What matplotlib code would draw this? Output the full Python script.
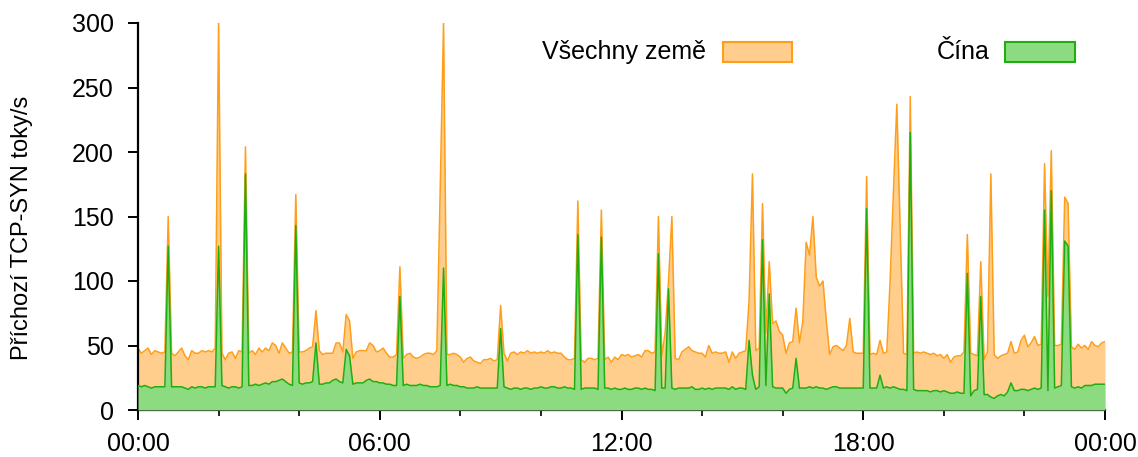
import matplotlib
matplotlib.use("Agg")
import matplotlib.pyplot as plt
from matplotlib.patches import Rectangle
import numpy as np

# 5-minute samples, 00:00 .. 24:00 (one row per hour)
all_countries = [
    48, 44, 46, 48, 43, 46, 45, 44, 45, 150, 44, 42,
    45, 48, 42, 39, 46, 44, 44, 46, 45, 46, 45, 48,
    300, 44, 39, 44, 45, 40, 46, 45, 204, 44, 46, 43,
    48, 45, 48, 46, 52, 50, 44, 52, 48, 44, 45, 167,
    45, 45, 46, 48, 49, 77, 46, 43, 44, 44, 44, 52,
    52, 45, 74, 69, 40, 45, 46, 46, 46, 52, 50, 45,
    46, 48, 44, 41, 41, 43, 111, 40, 43, 44, 41, 40,
    41, 43, 44, 44, 43, 46, 170, 300, 43, 43, 44, 43,
    41, 37, 40, 41, 38, 37, 36, 39, 39, 40, 38, 39,
    81, 44, 38, 44, 45, 43, 45, 44, 46, 44, 45, 44,
    45, 44, 46, 44, 45, 44, 44, 41, 39, 39, 40, 162,
    39, 37, 40, 40, 39, 40, 155, 39, 41, 37, 41, 39,
    43, 42, 43, 41, 42, 43, 41, 46, 46, 44, 45, 150,
    42, 60, 100, 150, 40, 39, 45, 47, 49, 46, 45, 44,
    44, 41, 50, 44, 45, 44, 44, 45, 37, 45, 40, 44,
    45, 46, 85, 183, 46, 48, 160, 60, 115, 67, 69, 61,
    58, 44, 52, 53, 79, 52, 69, 130, 120, 150, 103, 96,
    100, 69, 43, 49, 50, 48, 46, 50, 71, 45, 44, 44,
    44, 181, 43, 44, 43, 54, 44, 45, 100, 170, 237, 140,
    44, 43, 243, 44, 45, 44, 45, 44, 43, 44, 42, 43,
    40, 43, 37, 41, 42, 42, 45, 136, 44, 43, 42, 115,
    39, 45, 183, 43, 40, 42, 43, 44, 53, 44, 45, 54,
    58, 49, 52, 57, 50, 51, 191, 88, 201, 50, 50, 51,
    165, 160, 49, 47, 51, 48, 50, 47, 53, 50, 49, 52,
    53,
]

china = [
    19, 18, 19, 18, 17, 18, 18, 18, 18, 127, 18, 18,
    18, 18, 17, 16, 18, 17, 18, 18, 17, 18, 18, 18,
    127, 19, 18, 17, 18, 18, 17, 18, 183, 19, 19, 20,
    19, 20, 21, 20, 22, 22, 23, 24, 22, 20, 19, 143,
    21, 20, 21, 21, 22, 52, 20, 20, 21, 21, 23, 24,
    22, 21, 47, 42, 20, 21, 21, 21, 23, 24, 22, 22,
    21, 21, 20, 20, 19, 19, 88, 19, 20, 19, 19, 19,
    20, 19, 19, 18, 18, 18, 19, 110, 19, 20, 19, 19,
    18, 18, 17, 17, 17, 18, 17, 17, 17, 17, 17, 17,
    63, 18, 17, 16, 17, 17, 16, 17, 17, 16, 17, 17,
    18, 17, 17, 18, 18, 17, 17, 18, 17, 17, 16, 136,
    16, 17, 17, 17, 17, 16, 134, 17, 17, 16, 17, 16,
    16, 17, 16, 16, 17, 17, 16, 17, 16, 16, 15, 121,
    17, 17, 94, 17, 16, 17, 17, 17, 17, 18, 16, 16,
    17, 16, 17, 16, 17, 17, 17, 17, 16, 18, 16, 17,
    17, 16, 54, 27, 16, 18, 132, 19, 90, 18, 17, 17,
    17, 13, 16, 17, 40, 17, 17, 17, 18, 17, 18, 17,
    17, 16, 17, 18, 18, 17, 17, 17, 17, 17, 17, 17,
    17, 156, 17, 17, 17, 27, 17, 18, 17, 18, 17, 16,
    16, 15, 215, 16, 15, 15, 15, 15, 14, 15, 15, 14,
    15, 14, 13, 13, 14, 13, 13, 106, 11, 15, 16, 88,
    12, 12, 10, 9, 11, 12, 11, 14, 21, 15, 15, 16,
    16, 15, 16, 17, 16, 17, 155, 15, 170, 17, 18, 19,
    131, 127, 18, 17, 18, 17, 19, 19, 19, 20, 20, 20,
    20,
]

sample_minutes = 5
hours = np.arange(len(all_countries)) * sample_minutes / 60.0

major_ticks = [0, 6, 12, 18, 24]
major_labels = ["00:00", "06:00", "12:00", "18:00", "00:00"]
minor_ticks = [2, 4, 8, 10, 14, 16, 20, 22]
y_ticks = [0, 50, 100, 150, 200, 250, 300]

series_names = ["Všechny země", "Čína"]
ylabel = "Příchozí TCP-SYN toky/s"

orange_line = "#FF9E1A"
orange_fill = "#FFCE8C"
green_line = "#1FAE10"
green_fill = "#8DDB80"

plt.rcParams["font.family"] = ["Liberation Sans", "DejaVu Sans"]

fig = plt.figure(figsize=(11.38, 4.57), dpi=100)
ax = fig.add_axes([138 / 1138, 47 / 457, 967 / 1138, 387 / 457])

ax.fill_between(hours, 0, all_countries, color=orange_fill, lw=0, zorder=1)
ax.plot(hours, all_countries, color=orange_line, lw=1.1, zorder=2)
ax.fill_between(hours, 0, china, color=green_fill, lw=0, zorder=3)
ax.plot(hours, china, color=green_line, lw=1.1, zorder=4)

ax.set_xlim(0, 24)
ax.set_ylim(0, 300)
ax.set_xticks(major_ticks)
ax.set_xticklabels(major_labels)
ax.set_xticks(minor_ticks, minor=True)
ax.set_yticks(y_ticks)

for s in ["top", "right"]:
    ax.spines[s].set_visible(False)
for s in ["left", "bottom"]:
    ax.spines[s].set_linewidth(1.6)
    ax.spines[s].set_color("black")

ax.tick_params(axis="both", which="major", direction="out", length=7.5,
               width=1.4, labelsize=18, colors="black")
ax.tick_params(axis="x", which="major", pad=8)
ax.tick_params(axis="y", which="major", pad=10)
ax.tick_params(axis="x", which="minor", direction="out", length=4.5, width=1.2)

fig.text(22 / 1138, 1 - 228 / 457, ylabel, rotation=90, ha="center",
         va="center", fontsize=17)

# legend
fig.text(706 / 1138, 1 - 52 / 457, series_names[0], ha="right", va="center",
         fontsize=18)
fig.patches.append(Rectangle((723 / 1138, 1 - 62 / 457), 69 / 1138, 20 / 457,
                             transform=fig.transFigure, facecolor=orange_fill,
                             edgecolor=orange_line, lw=1.5))
fig.text(990 / 1138, 1 - 52 / 457, series_names[1], ha="right", va="center",
         fontsize=18)
fig.patches.append(Rectangle((1005 / 1138, 1 - 62 / 457), 70 / 1138, 20 / 457,
                             transform=fig.transFigure, facecolor=green_fill,
                             edgecolor=green_line, lw=1.5))

fig.savefig("out.png", dpi=100)
